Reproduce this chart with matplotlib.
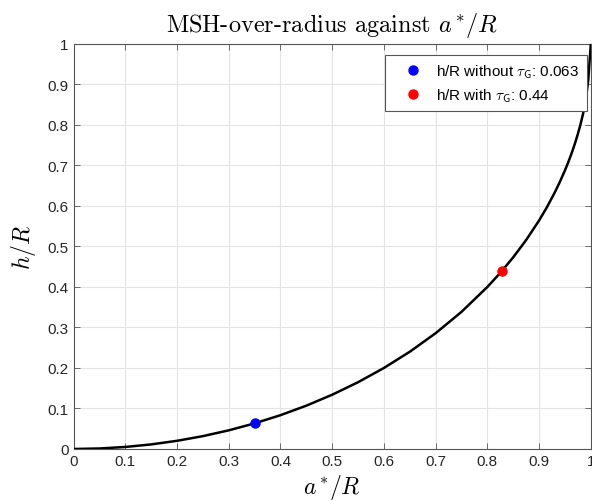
import matplotlib.pyplot as plt
import matplotlib as mpl

mpl.rcParams['mathtext.fontset'] = 'cm'

# curve
a_over_R = [0, 0.05, 0.1, 0.15, 0.2, 0.25, 0.3, 0.35, 0.4, 0.45, 0.5, 0.55, 0.6,
            0.65, 0.7, 0.75, 0.8, 0.825, 0.85, 0.875, 0.9, 0.915, 0.93, 0.94, 0.95,
            0.955, 0.96, 0.965, 0.97, 0.975, 0.98, 0.985, 0.99, 0.995, 1.0]
h_over_R = [0, 0.00125, 0.00501, 0.01131, 0.0202, 0.03175, 0.04606, 0.06325,
            0.08348, 0.10697, 0.13397, 0.16484, 0.2, 0.24007, 0.28586, 0.33856,
            0.4, 0.43478, 0.47322, 0.51588, 0.56411, 0.59655, 0.63244, 0.65886,
            0.68775, 0.70339, 0.72, 0.73778, 0.7569, 0.77778, 0.801, 0.82733,
            0.85893, 0.91, 1.0]

# highlighted points
pt_without = (0.35, 0.063)
pt_with = (0.829, 0.44)
lbl_without = r'h/R without $\tau_{\mathsf{G}}$: 0.063'
lbl_with = r'h/R with $\tau_{\mathsf{G}}$: 0.44'

ticks = [0, 0.1, 0.2, 0.3, 0.4, 0.5, 0.6, 0.7, 0.8, 0.9, 1]
tick_labels = ['0', '0.1', '0.2', '0.3', '0.4', '0.5', '0.6', '0.7', '0.8', '0.9', '1']

fig = plt.figure(figsize=(5.92, 5.02), dpi=100)
ax = fig.add_axes([0.1243, 0.1036, 0.8737, 0.807])

ax.plot(a_over_R, h_over_R, color='black', lw=1.8, zorder=3)
ax.plot(*pt_without, 'o', color='blue', ms=6.5, zorder=4, label=lbl_without)
ax.plot(*pt_with, 'o', color='red', ms=6.5, zorder=4, label=lbl_with)

ax.set_xlim(0, 1)
ax.set_ylim(0, 1)
ax.set_xticks(ticks)
ax.set_yticks(ticks)
ax.set_xticklabels(tick_labels, family='Liberation Sans', fontsize=11, color='#262626')
ax.set_yticklabels(tick_labels, family='Liberation Sans', fontsize=11, color='#262626')
ax.tick_params(direction='in', top=True, right=True, length=4, width=0.6, color='#555555')
ax.grid(True, color='#e3e3e3', lw=0.8)
ax.set_axisbelow(True)
for s in ax.spines.values():
    s.set_color('#555555')
    s.set_linewidth(0.8)

ax.set_title(r'MSH-over-radius against $a^*\!/R$', family='cmr10', fontsize=17.5, pad=9)
ax.set_xlabel(r'$a^*\!/R$', fontsize=17, labelpad=3)
ax.set_ylabel(r'$h/R$', fontsize=17, labelpad=7)

leg = ax.legend(loc='upper right', bbox_to_anchor=(0.992, 0.973), borderaxespad=0,
                prop={'family': 'Liberation Sans', 'size': 11},
                fancybox=False, edgecolor='#555555', framealpha=1,
                handlelength=2.6, handletextpad=0.2, borderpad=0.5,
                labelspacing=0.4)
leg.get_frame().set_linewidth(0.8)

fig.savefig('out.png', dpi=100)
